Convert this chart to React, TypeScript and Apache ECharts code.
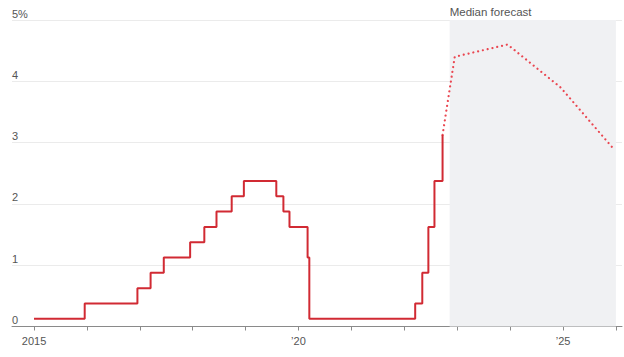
import React, { useEffect, useRef } from "react";
import * as echarts from "echarts";

// Actual fed funds target (midpoint), change dates
const rateDates = [
  "2015-01-01", "2015-12-17", "2016-12-15", "2017-03-16", "2017-06-15",
  "2017-12-14", "2018-03-22", "2018-06-14", "2018-09-27", "2018-12-20",
  "2019-08-01", "2019-09-19", "2019-10-31", "2020-03-04", "2020-03-16",
  "2022-03-17", "2022-05-05", "2022-06-16", "2022-07-28", "2022-09-22",
];
const rateValues = [
  0.125, 0.375, 0.625, 0.875, 1.125,
  1.375, 1.625, 1.875, 2.125, 2.375,
  2.125, 1.875, 1.625, 1.125, 0.125,
  0.375, 0.875, 1.625, 2.375, 3.125,
];

// Median forecast
const forecastDates = ["2022-09-22", "2022-12-15", "2023-12-15", "2024-12-15", "2025-12-15"];
const forecastValues = [3.125, 4.4, 4.6, 3.9, 2.9];

const forecastRange = ["2022-11-10", "2026-01-01"];
const forecastLabel = "Median forecast";

const yTicks = [0, 1, 2, 3, 4, 5];
const xLabelMap: Record<number, string> = { 2015: "2015", 2020: "\u201920", 2025: "\u201925" };

const FONT = "'Liberation Sans', Arial, sans-serif";
const FS = 11;

export default function App() {
  const ref = useRef<HTMLDivElement>(null);
  useEffect(() => {
    if (!ref.current) return;
    const chart = echarts.init(ref.current, undefined, { renderer: "svg" });
    const DAY = 86400000;
    chart.setOption({
      animation: false,
      textStyle: { fontFamily: FONT },
      grid: { left: 12, right: 2, top: 20, bottom: 30.5, containLabel: false, outerBoundsMode: "none" },
      xAxis: {
        type: "time",
        min: new Date(2014, 7, 2).getTime(),
        max: new Date(2026, 1, 12).getTime(),
        minInterval: 365 * DAY,
        maxInterval: 366 * DAY,
        splitLine: { show: false },
        axisLine: { lineStyle: { color: "#8a8a8a", width: 1 } },
        axisTick: { show: true, length: 4, lineStyle: { color: "#8a8a8a" } },
        axisLabel: {
          color: "#555",
          fontSize: FS,
          fontFamily: FONT,
          margin: 9,
          hideOverlap: false,
          showMinLabel: false,
          showMaxLabel: false,
          formatter: (v: number) => {
            const d = new Date(v);
            if (d.getMonth() !== 0 || d.getDate() !== 1) return "";
            return xLabelMap[d.getFullYear()] || "";
          },
        },
      },
      yAxis: {
        type: "value",
        min: yTicks[0],
        max: yTicks[yTicks.length - 1],
        interval: 1,
        axisLine: { show: false },
        axisTick: { show: false },
        splitLine: { lineStyle: { color: "#ebebeb", width: 1 } },
        axisLabel: {
          inside: true,
          verticalAlign: "bottom",
          margin: 0,
          color: "#555",
          fontSize: FS,
          fontFamily: FONT,
          padding: [0, 0, 1, 0],
          formatter: (v: number) => (v === 5 ? "5%" : String(v)),
        },
      },
      series: [
        {
          type: "line",
          name: "forecast",
          data: forecastDates.map((d, i) => [d, forecastValues[i]]),
          showSymbol: false,
          symbol: "none",
          lineStyle: { color: "#ea4650", width: 2.2, type: [0.01, 4.9], cap: "round" },
          z: 3,
          markArea: {
            silent: true,
            itemStyle: { color: "#f0f1f3" },
            label: {
              show: true,
              position: [0, -2],
              verticalAlign: "bottom",
              align: "left",
              color: "#555",
              fontSize: FS + 0.5,
              fontFamily: FONT,
            },
            data: [[{ xAxis: forecastRange[0], name: forecastLabel }, { xAxis: forecastRange[1] }]],
          },
        },
        {
          type: "line",
          name: "rate",
          step: "end",
          data: rateDates.map((d, i) => [d, rateValues[i]]),
          showSymbol: false,
          symbol: "none",
          lineStyle: { color: "#d12a33", width: 2 },
          z: 4,
        },
      ],
    });
    return () => chart.dispose();
  }, []);
  return (
    <div
      ref={ref}
      style={{ position: "fixed", left: 0, top: 0, width: 624, height: 357, background: "#fff" }}
    />
  );
}
